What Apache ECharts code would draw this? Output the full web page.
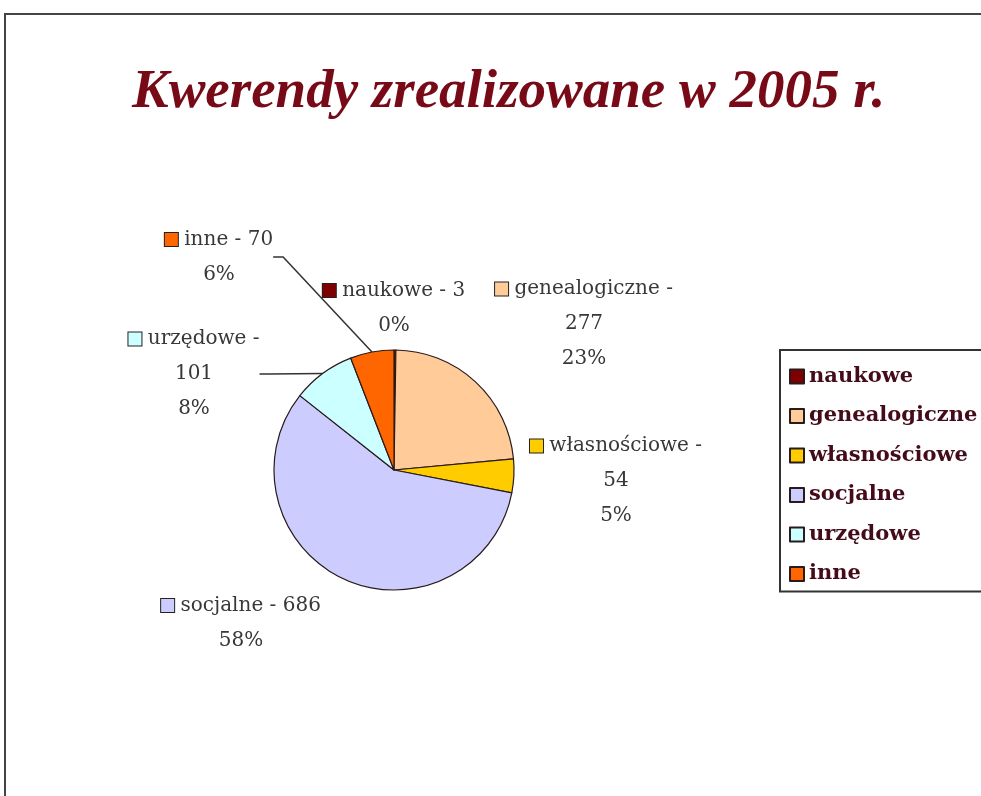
<!DOCTYPE html>
<html>
<head>
<meta charset="utf-8">
<script src="https://cdn.jsdelivr.net/npm/echarts@6/dist/echarts.min.js"></script>
<style>
  html, body { margin: 0; padding: 0; background: #fff; }
  #chart { width: 981px; height: 796px; }
</style>
</head>
<body>
<div id="chart"></div>
<script>
const categories = ["naukowe", "genealogiczne", "własnościowe", "socjalne", "urzędowe", "inne"];
const values = [3, 277, 54, 686, 101, 70];
const colors = ["#7f0000", "#ffcc99", "#ffcc00", "#ccccff", "#ccffff", "#ff6600"];
// labels Excel broke after the dash
const wrapped = ["genealogiczne", "własnościowe", "urzędowe"];
// labels that keep a leader line
const withLine = ["urzędowe", "inne"];
// centre of each label block (px)
const labelPos = [[394, 308], [584, 324], [616, 481], [241, 623], [194, 374], [219, 257]];

const rich = {
  t: { fontFamily: "DejaVu Serif", fontSize: 20, color: "#383838", lineHeight: 35 }
};
colors.forEach((c, i) => {
  rich["s" + i] = { width: 13, height: 13, backgroundColor: c, borderColor: "#222", borderWidth: 1 };
});

const chart = echarts.init(document.getElementById("chart"));
chart.setOption({
  backgroundColor: "#fff",
  graphic: [
    {
      type: "rect",
      z: -10,
      shape: { x: 5, y: 14, width: 1100, height: 900 },
      style: { fill: "none", stroke: "#444", lineWidth: 2 }
    }
  ],
  title: {
    text: "Kwerendy zrealizowane w 2005 r.",
    left: 127,
    top: 60,
    textStyle: {
      fontFamily: "Liberation Serif",
      fontStyle: "italic",
      fontWeight: "bold",
      fontSize: 55,
      color: "#780a18"
    }
  },
  legend: {
    orient: "vertical",
    left: 780,
    top: 350,
    data: categories,
    icon: "rect",
    itemWidth: 14,
    itemHeight: 14,
    itemGap: 18.5,
    padding: [16, 12, 7, 9],
    borderColor: "#333",
    borderWidth: 2,
    backgroundColor: "#fff",
    textStyle: {
      fontFamily: "DejaVu Serif",
      fontWeight: "bold",
      fontSize: 21,
      color: "#440c1a"
    }
  },
  series: [
    {
      type: "pie",
      center: [394, 470],
      radius: 120,
      startAngle: 90,
      clockwise: true,
      avoidLabelOverlap: false,
      animation: false,
      itemStyle: { borderColor: "#2a1a1a", borderWidth: 1.2 },
      emphasis: { disabled: true },
      label: {
        show: true,
        position: "outside",
        align: "center",
        rich: rich,
        formatter: (p) => {
          const i = p.dataIndex;
          const pct = Math.round(p.percent) + "%";
          if (wrapped.includes(p.name)) {
            return `{s${i}|}{t| ${p.name} -}\n{t|${p.value}}\n{t|${pct}}`;
          }
          return `{s${i}|}{t| ${p.name} - ${p.value}}\n{t|${pct}}`;
        }
      },
      labelLine: { show: false, length: 10, length2: 10, lineStyle: { color: "#333", width: 1.5 } },
      labelLayout: (p) => ({
        x: labelPos[p.dataIndex][0],
        y: labelPos[p.dataIndex][1],
        align: "center",
        verticalAlign: "middle"
      }),
      data: categories.map((name, i) => ({
        name: name,
        value: values[i],
        itemStyle: { color: colors[i] },
        labelLine: { show: withLine.includes(name) }
      }))
    }
  ]
});
</script>
</body>
</html>
